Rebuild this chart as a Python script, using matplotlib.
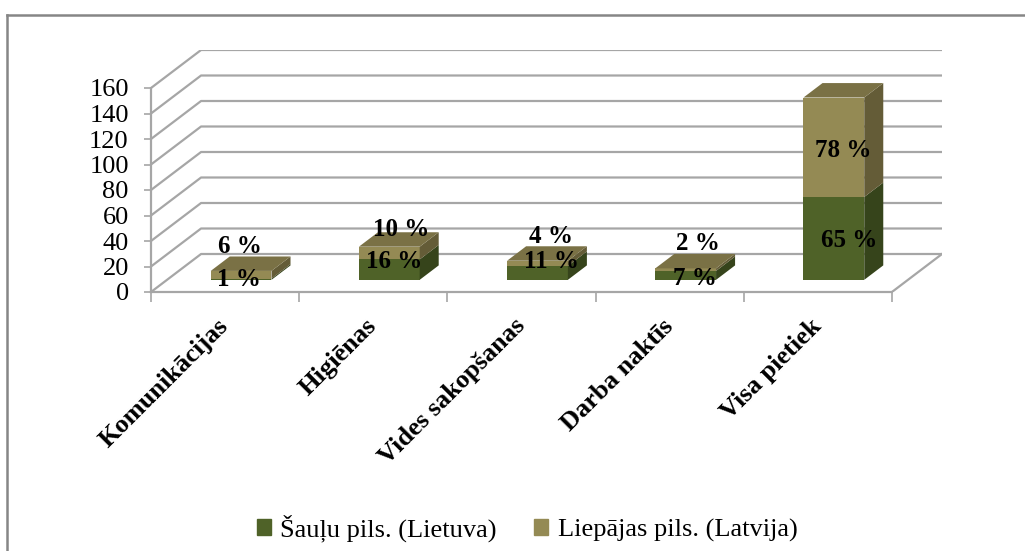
import matplotlib.pyplot as plt
from matplotlib.lines import Line2D
from matplotlib.patches import Patch
import numpy as np

categories = ['Komunikācijas', 'Higiēnas', 'Vides sakopšanas', 'Darba naktīs', 'Visa pietiek']
series_names = ['Šauļu pils. (Lietuva)', 'Liepājas pils. (Latvija)']
saulu = [1, 16, 11, 7, 65]
liepajas = [6, 10, 4, 2, 78]
yticks = [0, 20, 40, 60, 80, 100, 120, 140, 160]

# label nudges in pixels (dx, dy) for the two series
lab_off_green = [(-2, 0), (5, 8), (14, 11), (9, -3), (15, -2)]
lab_off_tan = [(-1, 28), (12, 24), (14, 27), (12, 26), (9, -3)]

# oblique "3D" geometry, in data units
DX = 50 / 148      # depth shift along x (category units)
DY = 38 / 1.275    # depth shift along y (value units)
D0, DEPTH, W = 0.32, 0.38, 0.41

GREEN = ('#4f6228', '#36441b', '#4a5c25')
TAN = ('#948a54', '#645c37', '#7a7145')
GRID = '#a6a6a6'


def main() -> None:
    plt.rcParams['font.family'] = ['Liberation Serif', 'DejaVu Serif']
    fig = plt.figure(figsize=(10.25, 5.51), dpi=100)
    W_PX, H_PX = 1025, 551
    ax = fig.add_axes([151 / W_PX, (H_PX - 292) / H_PX,
                       (942 - 151) / W_PX, (292 - 50) / H_PX])
    n = len(categories)
    ax.set_xlim(0, n + DX)
    ax.set_ylim(0, yticks[-1] + DY)

    # walls / gridlines
    for v in yticks:
        ax.plot([0, DX, n + DX], [v, v + DY, v + DY], color=GRID, lw=1.6,
                zorder=1, solid_capstyle='butt')
    ax.plot([n, n + DX], [0, DY], color=GRID, lw=1.6, zorder=1)

    # bars
    ddx, ddy = DEPTH * DX, DEPTH * DY
    for i in range(n):
        xc = i + 0.5 + D0 * DX
        x0, x1 = xc - W / 2, xc + W / 2
        base = D0 * DY
        segs = [(saulu[i], GREEN), (liepajas[i], TAN)]
        bottom = base
        for k, (val, cols) in enumerate(segs):
            top = bottom + val
            ax.bar(xc, val, W, bottom=bottom, color=cols[0], zorder=3)
            ax.fill([x1, x1 + ddx, x1 + ddx, x1],
                    [bottom, bottom + ddy, top + ddy, top],
                    color=cols[1], zorder=3, lw=0)
            if k == len(segs) - 1:
                ax.fill([x0, x1, x1 + ddx, x0 + ddx],
                        [top, top, top + ddy, top + ddy],
                        color=cols[2], zorder=3, lw=0)
            bottom = top

        # data labels
        g_mid = base + saulu[i] / 2
        t_mid = base + saulu[i] + liepajas[i] / 2
        ax.annotate(f'{saulu[i]} %', (xc, g_mid), xytext=lab_off_green[i],
                    textcoords='offset pixels', ha='center', va='center',
                    fontsize=18, fontweight='bold', zorder=5)
        ax.annotate(f'{liepajas[i]} %', (xc, t_mid), xytext=lab_off_tan[i],
                    textcoords='offset pixels', ha='center', va='center',
                    fontsize=18, fontweight='bold', zorder=5)

    # axes
    for s in ['top', 'right']:
        ax.spines[s].set_visible(False)
    ax.spines['left'].set_bounds(0, yticks[-1])
    ax.spines['bottom'].set_bounds(0, n)
    for s in ['left', 'bottom']:
        ax.spines[s].set_color(GRID)
        ax.spines[s].set_linewidth(1.6)
    ax.set_yticks(yticks)
    ax.tick_params(axis='y', length=5, width=1.2, color=GRID, pad=11,
                   labelsize=19)
    ax.set_xticks(np.arange(n + 1))
    ax.set_xticklabels([])
    ax.tick_params(axis='x', which='major', length=7, width=1.2, color=GRID)
    ax.set_xticks(np.arange(n) + 0.5, minor=True)
    ax.set_xticklabels(categories, minor=True, rotation=45, ha='right',
                       va='center', rotation_mode='anchor',
                       fontsize=19, fontweight='bold')
    ax.tick_params(axis='x', which='minor', length=0, pad=22)

    # legend
    handles = [Patch(color=GREEN[0]), Patch(color=TAN[0])]
    fig.legend(handles, series_names, loc='center',
               bbox_to_anchor=(527 / W_PX, 1 - 528 / H_PX), ncol=2,
               frameon=False, fontsize=19, handlelength=0.55,
               handleheight=0.6, handletextpad=0.35, columnspacing=1.4)

    # chart area border (top and left visible)
    fig.add_artist(Line2D([7 / W_PX, 1.05], [1 - 15 / H_PX] * 2,
                          transform=fig.transFigure, color='#868686', lw=1.8))
    fig.add_artist(Line2D([7 / W_PX] * 2, [1 - 15 / H_PX, -0.05],
                          transform=fig.transFigure, color='#868686', lw=1.8))

    fig.savefig('out.png', dpi=100)


if __name__ == '__main__':
    main()
